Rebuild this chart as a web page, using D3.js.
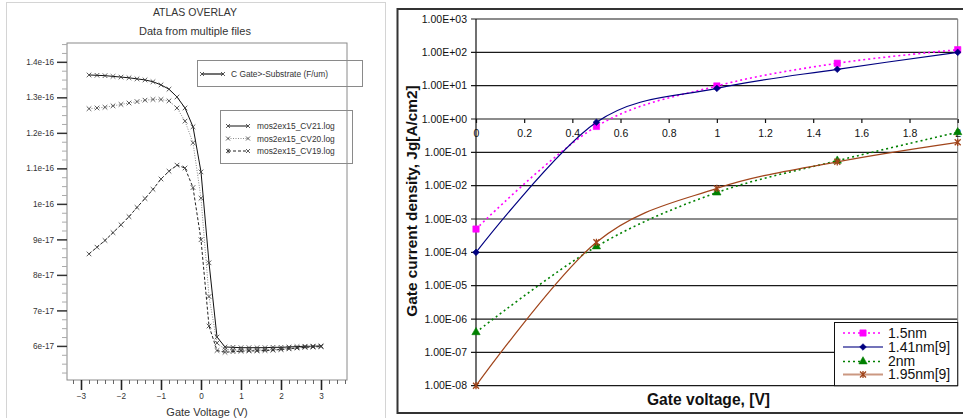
<!DOCTYPE html>
<html>
<head>
<meta charset="utf-8">
<script src="https://cdn.jsdelivr.net/npm/d3@7"></script>
<style>
  body { margin: 0; background: #fff; }
  svg { display: block; font-family: "Liberation Sans", Arial, Helvetica, sans-serif; }
</style>
</head>
<body>
<svg id="chart" width="963" height="418"></svg>
<script>
// 1: DATA
// left panel: C-V curves, capacitance in units of 1e-17 F/um
const voltage = [-2.8, -2.6, -2.4, -2.2, -2.0, -1.8, -1.6, -1.4, -1.2, -1.0, -0.8, -0.6, -0.4, -0.2, 0.0,
                 0.2, 0.4, 0.6, 0.8, 1.0, 1.2, 1.4, 1.6, 1.8, 2.0, 2.2, 2.4, 2.6, 2.8, 3.0];
const cv21 = [13.63, 13.62, 13.61, 13.59, 13.57, 13.55, 13.52, 13.49, 13.44, 13.35, 13.23, 13.01, 12.70, 12.17, 10.90,
              8.34, 6.25, 5.97, 5.96, 5.95, 5.95, 5.95, 5.95, 5.96, 5.96, 5.97, 5.98, 5.99, 5.99, 6.00];
const cv20 = [12.68, 12.70, 12.72, 12.76, 12.80, 12.84, 12.88, 12.92, 12.94, 12.94, 12.90, 12.70, 12.33, 11.72, 10.16,
              7.39, 6.08, 5.90, 5.88, 5.88, 5.88, 5.88, 5.89, 5.90, 5.91, 5.93, 5.95, 5.97, 5.98, 5.99];
const cv19 = [8.59, 8.78, 8.97, 9.19, 9.41, 9.64, 9.90, 10.15, 10.41, 10.70, 10.92, 11.09, 11.01, 10.46, 8.99,
              6.56, 5.87, 5.82, 5.84, 5.85, 5.86, 5.86, 5.87, 5.88, 5.90, 5.92, 5.94, 5.96, 5.97, 5.98];
const cvNames = ["mos2ex15_CV21.log", "mos2ex15_CV20.log", "mos2ex15_CV19.log"];
const capTicks = [6, 7, 8, 9, 10, 11, 12, 13, 14];
const capTickLabels = ["6e-17", "7e-17", "8e-17", "9e-17", "1e-16", "1.1e-16", "1.2e-16", "1.3e-16", "1.4e-16"];
const vgTicksLeft = [-3, -2, -1, 0, 1, 2, 3];

// right panel: gate current density vs gate voltage
const gateV = [0, 0.5, 1, 1.5, 2];
const jg15 = [5e-4, 0.6, 9.8, 47, 120];
const jg141 = [1e-4, 0.8, 8.3, 31, 100];
const jg20 = [4e-7, 1.5e-4, 6.2e-3, 0.056, 0.4];
const jg195 = [1e-8, 2e-4, 8.3e-3, 0.052, 0.2];
const jgNames = ["1.5nm", "1.41nm[9]", "2nm", "1.95nm[9]"];
const jgTicks = [1e3, 1e2, 1e1, 1e0, 1e-1, 1e-2, 1e-3, 1e-4, 1e-5, 1e-6, 1e-7, 1e-8];
const jgTickLabels = ["1.00E+03", "1.00E+02", "1.00E+01", "1.00E+00", "1.00E-01", "1.00E-02",
                      "1.00E-03", "1.00E-04", "1.00E-05", "1.00E-06", "1.00E-07", "1.00E-08"];
const vgTicksRight = [0, 0.2, 0.4, 0.6, 0.8, 1, 1.2, 1.4, 1.6, 1.8, 2];
const vgTickLabelsRight = ["0", "0.2", "0.4", "0.6", "0.8", "1", "1.2", "1.4", "1.6", "1.8", "2"];

const svg = d3.select("#chart");

// small "x" glyph used by the ATLAS plot
const xMark = r => `M${-r},${-r}L${r},${r}M${-r},${r}L${r},${-r}`;
const starMark = r => `M${-r},${-r}L${r},${r}M${-r},${r}L${r},${-r}M0,${-r * 1.2}L0,${r * 1.2}`;

// 2: LEFT PANEL (ATLAS OVERLAY)
const L = { left: 67, right: 347, top: 43, bottom: 380 };
const xL = d3.scaleLinear().domain([-3.35, 3.65]).range([L.left, L.right]);
const yL = d3.scaleLinear().domain([5.04, 14.53]).range([L.bottom, L.top]);

const left = svg.append("g");

left.append("rect")
    .attr("x", 6.5).attr("y", 2.5)
    .attr("width", 379).attr("height", 440)
    .attr("fill", "none").attr("stroke", "#d4d4d4");

left.append("text")
    .attr("x", 195).attr("y", 15.5)
    .attr("text-anchor", "middle").attr("font-size", 10.5).attr("fill", "#333")
    .text("ATLAS OVERLAY");

left.append("text")
    .attr("x", 195).attr("y", 35)
    .attr("text-anchor", "middle").attr("font-size", 11).attr("fill", "#333")
    .text("Data from multiple files");

left.append("rect")
    .attr("x", L.left).attr("y", L.top)
    .attr("width", L.right - L.left).attr("height", L.bottom - L.top)
    .attr("fill", "none").attr("stroke", "#8a8a8a");

// minor + major ticks, y
left.append("g")
    .attr("transform", `translate(${L.left},0)`)
    .call(d3.axisLeft(yL).tickValues(d3.range(5.25, 14.53, 0.25).filter(v => Math.abs(v - Math.round(v)) > 0.01)).tickSize(5).tickFormat(""))
    .call(g => g.select(".domain").remove())
    .call(g => g.selectAll("line").attr("stroke", "#aaa"));

left.append("g")
    .attr("transform", `translate(${L.left},0)`)
    .call(d3.axisLeft(yL).tickValues(capTicks).tickSize(10).tickPadding(3).tickFormat((d, i) => capTickLabels[i]))
    .call(g => g.select(".domain").remove())
    .call(g => g.selectAll("line").attr("stroke", "#333").attr("stroke-width", 1.5))
    .call(g => g.selectAll("text").attr("font-size", 8.2).attr("fill", "#333").attr("font-family", null));

// minor + major ticks, x
left.append("g")
    .attr("transform", `translate(0,${L.bottom})`)
    .call(d3.axisBottom(xL).tickValues(d3.range(-3.2, 3.65, 0.2).filter(v => Math.abs(v - Math.round(v)) > 0.01)).tickSize(4).tickFormat(""))
    .call(g => g.select(".domain").remove())
    .call(g => g.selectAll("line").attr("stroke", "#666"));

left.append("g")
    .attr("transform", `translate(0,${L.bottom})`)
    .call(d3.axisBottom(xL).tickValues(vgTicksLeft).tickSize(10).tickPadding(3).tickFormat(d3.format("d")))
    .call(g => g.select(".domain").remove())
    .call(g => g.selectAll("line").attr("stroke", "#222").attr("stroke-width", 1.6))
    .call(g => g.selectAll("text").attr("font-size", 8.2).attr("fill", "#333").attr("font-family", null));

left.append("text")
    .attr("x", 207).attr("y", 416)
    .attr("text-anchor", "middle").attr("font-size", 11).attr("fill", "#333")
    .text("Gate Voltage (V)");

// curves
const cvSeries = [
    { vals: cv21, stroke: "#111", dash: null, mark: xMark },
    { vals: cv20, stroke: "#8a8a8a", dash: "1,1.5", mark: xMark },
    { vals: cv19, stroke: "#222", dash: "3,2", mark: xMark }
];

const lineL = d3.line()
    .x(d => xL(d[0]))
    .y(d => yL(d[1]));

cvSeries.forEach(s => {
    const pts = voltage.map((v, i) => [v, s.vals[i]]);
    left.append("path")
        .datum(pts)
        .attr("fill", "none")
        .attr("stroke", s.stroke)
        .attr("stroke-width", 1)
        .attr("stroke-dasharray", s.dash)
        .attr("d", lineL);
    left.selectAll(null)
        .data(pts)
        .join("path")
        .attr("transform", d => `translate(${xL(d[0])},${yL(d[1])})`)
        .attr("d", s.mark(2.3))
        .attr("stroke", "#333")
        .attr("stroke-width", 0.8)
        .attr("fill", "none");
});

// legends
const lg1 = left.append("g");
lg1.append("rect")
    .attr("x", 197.5).attr("y", 60.5).attr("width", 165).attr("height", 26)
    .attr("fill", "none").attr("stroke", "#8a8a8a");
lg1.append("line").attr("x1", 202).attr("x2", 223).attr("y1", 74).attr("y2", 74)
    .attr("stroke", "#111").attr("stroke-width", 1.2);
[202, 223].forEach(x => lg1.append("path").attr("transform", `translate(${x},74)`)
    .attr("d", xMark(2)).attr("stroke", "#333").attr("stroke-width", 0.8));
lg1.append("text").attr("x", 231).attr("y", 77)
    .attr("font-size", 8.4).attr("fill", "#333").text("C Gate>-Substrate (F/um)");

const lg2 = left.append("g");
lg2.append("rect")
    .attr("x", 220.5).attr("y", 110.5).attr("width", 132).attr("height", 53)
    .attr("fill", "none").attr("stroke", "#8a8a8a");
cvSeries.forEach((s, i) => {
    const y = 126 + i * 12.5;
    lg2.append("line").attr("x1", 228).attr("x2", 248).attr("y1", y).attr("y2", y)
        .attr("stroke", s.stroke).attr("stroke-width", 1).attr("stroke-dasharray", s.dash);
    lg2.append("path").attr("transform", `translate(228,${y})`)
        .attr("d", i === 2 ? starMark(2) : xMark(2)).attr("stroke", "#333").attr("stroke-width", 0.8);
    lg2.append("path").attr("transform", `translate(248,${y})`)
        .attr("d", xMark(2)).attr("stroke", "#333").attr("stroke-width", 0.8);
    lg2.append("text").attr("x", 257).attr("y", y + 3)
        .attr("font-size", 8.4).attr("fill", "#333").text(cvNames[i]);
});

// 3: RIGHT PANEL (gate current density, log scale)
const R = { left: 476, right: 957.7, top: 19, bottom: 385.7 };
const xR = d3.scaleLinear().domain([0, 2]).range([R.left, R.right]);
const yR = d3.scaleLog().domain([1e-8, 1e3]).range([R.bottom, R.top]);

const right = svg.append("g");

right.append("path")
    .attr("d", "M970,9H397.5V413H970")
    .attr("fill", "none").attr("stroke", "#333").attr("stroke-width", 2);

// gridlines
right.selectAll(".grid")
    .data(jgTicks)
    .join("line")
    .attr("class", "grid")
    .attr("x1", R.left - 5).attr("x2", R.right)
    .attr("y1", d => yR(d)).attr("y2", d => yR(d))
    .attr("stroke", "#1a1a1a").attr("stroke-width", 1.2);

right.append("line")
    .attr("x1", R.left).attr("x2", R.left).attr("y1", R.top).attr("y2", R.bottom)
    .attr("stroke", "#111").attr("stroke-width", 1.2);
right.append("line")
    .attr("x1", R.right).attr("x2", R.right).attr("y1", R.top).attr("y2", R.bottom)
    .attr("stroke", "#777").attr("stroke-width", 1);

// y tick labels
right.selectAll(".ylab")
    .data(jgTicks)
    .join("text")
    .attr("class", "ylab")
    .attr("x", 467).attr("y", d => yR(d)).attr("dy", "0.36em")
    .attr("text-anchor", "end").attr("font-size", 10.5).attr("fill", "#111")
    .text((d, i) => jgTickLabels[i]);

// x axis sits on the 1.00E+00 line
right.append("g")
    .attr("transform", `translate(0,${yR(1)})`)
    .call(d3.axisBottom(xR).tickValues(vgTicksRight).tickSize(4).tickPadding(7).tickFormat((d, i) => vgTickLabelsRight[i]))
    .call(g => g.select(".domain").remove())
    .call(g => g.selectAll("line").attr("stroke", "#111").attr("stroke-width", 1.2))
    .call(g => g.selectAll("text").attr("font-size", 10.5).attr("fill", "#111").attr("font-family", null));

// axis titles
right.append("text")
    .attr("transform", "translate(416.5,201) rotate(-90)")
    .attr("text-anchor", "middle").attr("font-size", 15.4).attr("font-weight", "bold").attr("fill", "#111")
    .text("Gate current density, Jg[A/cm2]");

right.append("text")
    .attr("x", 708.5).attr("y", 405)
    .attr("text-anchor", "middle").attr("font-size", 15.6).attr("font-weight", "bold").attr("fill", "#111")
    .text("Gate voltage, [V]");

// series
const jgSeries = [
    { vals: jg15, color: "#ff00ff", dash: "2,3", width: 1.6, mark: "square" },
    { vals: jg141, color: "#000080", dash: null, width: 1.2, mark: "diamond" },
    { vals: jg20, color: "#008000", dash: "2,3", width: 1.6, mark: "triangle" },
    { vals: jg195, color: "#a0441a", dash: null, width: 1.2, mark: "star" }
];

const markPath = {
    square: d3.symbol(d3.symbolSquare, 40)(),
    diamond: d3.symbol(d3.symbolSquare, 22)(),
    triangle: d3.symbol(d3.symbolTriangle, 30)(),
    star: starMark(3)
};
const markRot = { square: 0, diamond: 45, triangle: 0, star: 0 };

const lineR = d3.line()
    .x(d => xR(d[0]))
    .y(d => yR(d[1]))
    .curve(d3.curveCardinal.tension(0));

jgSeries.forEach(s => {
    const pts = gateV.map((v, i) => [v, s.vals[i]]);
    right.append("path")
        .datum(pts)
        .attr("fill", "none")
        .attr("stroke", s.color)
        .attr("stroke-width", s.width)
        .attr("stroke-dasharray", s.dash)
        .attr("d", lineR);
    right.selectAll(null)
        .data(pts)
        .join("path")
        .attr("transform", d => `translate(${xR(d[0])},${yR(d[1])}) rotate(${markRot[s.mark]})`)
        .attr("d", markPath[s.mark])
        .attr("fill", s.mark === "star" ? "none" : s.color)
        .attr("stroke", s.color)
        .attr("stroke-width", s.mark === "star" ? 1.3 : 0.6);
});

// legend
const lgR = right.append("g");
lgR.append("rect")
    .attr("x", 834.5).attr("y", 322.5)
    .attr("width", R.right - 834.5).attr("height", R.bottom - 322.5)
    .attr("fill", "#fff").attr("stroke", "#111").attr("stroke-width", 1);

const legendY = [333, 347, 361.5, 374.5];
jgSeries.forEach((s, i) => {
    const y = legendY[i];
    lgR.append("line")
        .attr("x1", 843).attr("x2", 883).attr("y1", y).attr("y2", y)
        .attr("stroke", s.color)
        .attr("stroke-width", s.dash ? 1.3 : 2)
        .attr("stroke-opacity", s.dash ? 1 : 0.55)
        .attr("stroke-dasharray", s.dash);
    lgR.append("path")
        .attr("transform", `translate(863,${y}) rotate(${markRot[s.mark]})`)
        .attr("d", markPath[s.mark])
        .attr("fill", s.mark === "star" ? "none" : s.color)
        .attr("stroke", s.color)
        .attr("stroke-width", s.mark === "star" ? 1.3 : 0.6);
    lgR.append("text")
        .attr("x", 888).attr("y", y).attr("dy", "0.35em")
        .attr("font-size", 14).attr("fill", "#111")
        .text(jgNames[i]);
});
</script>
</body>
</html>
